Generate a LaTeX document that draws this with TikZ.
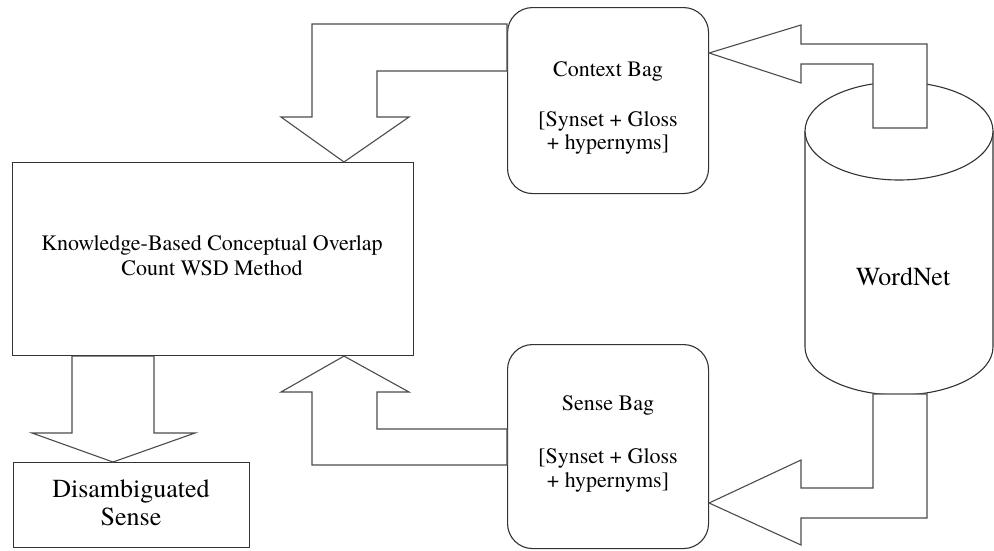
\documentclass[tikz,border=0pt]{standalone}
\usepackage{fontspec}
\setmainfont{TeX Gyre Termes}
\usetikzlibrary{calc}
\begin{document}
\begin{tikzpicture}[x=1pt,y=-1pt,
  outline/.style={draw=black!80,line width=1.1pt},
  box/.style={outline,fill=white,inner sep=0pt,anchor=north west},
  bagbox/.style={box,rounded corners=25pt},
  blockarrow/.style={draw=black!70,line width=1.1pt,fill=white,line join=miter},
  txt/.style={anchor=base,inner sep=0pt,font=\fontsize{22}{26}\selectfont},
  bigtxt/.style={anchor=base,inner sep=0pt,font=\fontsize{26}{30}\selectfont}]
\useasboundingbox (0,0) rectangle (994,550);
\fill[white] (0,0) rectangle (994,550);

% boxes
\node[box,minimum width=401pt,minimum height=193pt] (kb) at (12,162) {};
\node[bagbox,minimum width=201pt,minimum height=186pt] (ctx) at (507,7) {};
\node[bagbox,minimum width=201pt,minimum height=204pt] (sns) at (507,344) {};
\node[box,minimum width=236pt,minimum height=85pt] (dis) at (13,462) {};

% WordNet cylinder
\coordinate (wntop) at (899,131);
\fill[white] (805,131) rectangle (993,347);
\draw[outline,fill=white] (805,131) -- (805,347)
  arc[start angle=180,end angle=360,x radius=94pt,y radius=48pt] -- (993,131);
\draw[outline,fill=white] (wntop) ellipse[x radius=94pt,y radius=49pt];

% block arrows
\draw[blockarrow] (ctx.west |- 0,24) -- (312,24) -- (312,117) -- (281,117)
  -- (344,0 |- kb.north) -- (409,117) -- (377,117) -- (377,71)
  -- (ctx.west |- 0,71) -- cycle;
\draw[blockarrow] (sns.west |- 0,465) -- (312,465) -- (312,392) -- (281,392)
  -- (344,0 |- kb.south) -- (409,392) -- (377,392) -- (377,429)
  -- (sns.west |- 0,429) -- cycle;
\draw[blockarrow] (72,0 |- kb.south) -- (72,433) -- (32,433)
  -- (113,0 |- dis.north) -- (195,433) -- (154,433)
  -- (154,0 |- kb.south) -- cycle;
\draw[blockarrow] (ctx.east |- 0,53) -- (801,25) -- (801,44) -- (927,44)
  -- (927,128) -- (873,128) -- (873,64) -- (801,64) -- (801,83) -- cycle;
\draw[blockarrow] (873,394) -- (873,488) -- (801,488) -- (801,460)
  -- (sns.east |- 0,503) -- (801,545) -- (801,518) -- (927,518)
  -- (927,394) -- cycle;

% labels
\node[txt] (kbone) at (212,250) {Knowledge-Based Conceptual Overlap};
\node[txt] (kbtwo) at (212,275) {Count WSD Method};
\node[txt] (ctxone) at (608,76) {Context Bag};
\node[txt] (ctxtwo) at (608,126) {[Synset + Gloss};
\node[txt] (ctxthree) at (608,149) {+ hypernyms]};
\node[txt] (snsone) at (608,410) {Sense Bag};
\node[txt] (snstwo) at (608,463) {[Synset + Gloss};
\node[txt] (snsthree) at (608,487) {+ hypernyms]};
\node[bigtxt] (disone) at (131,497) {Disambiguated};
\node[bigtxt] (distwo) at (131,525) {Sense};
\node[bigtxt] (wn) at (903,285) {WordNet};
\end{tikzpicture}
\end{document}
